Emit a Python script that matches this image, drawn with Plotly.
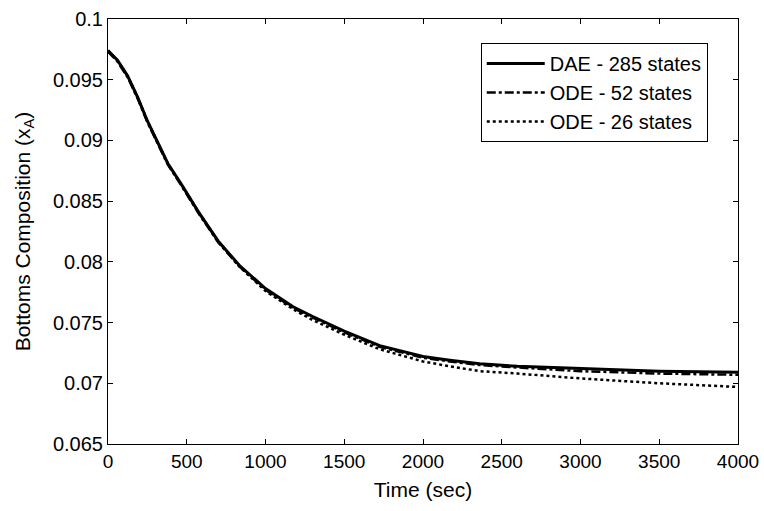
import plotly.graph_objects as go

# Time (sec)
t_dae = [0, 60, 125, 190, 250, 315, 380, 465, 575, 700, 835, 1000, 1175, 1300, 1500, 1725, 2000, 2170, 2360, 2600, 3000, 3500, 4000]
x_dae = [0.0974, 0.0966, 0.0953, 0.0935, 0.0916, 0.0899, 0.0881, 0.0864, 0.0841, 0.0817, 0.0797, 0.0778, 0.0763, 0.0755, 0.0743, 0.0731, 0.0722, 0.0719, 0.0716, 0.0714, 0.0712, 0.0710, 0.0709]

t_ode52 = [0, 60, 125, 190, 250, 315, 380, 465, 575, 700, 835, 1000, 1175, 1300, 1500, 1725, 2000, 2170, 2360, 2600, 3000, 3500, 4000]
x_ode52 = [0.0973, 0.0965, 0.0952, 0.0934, 0.0915, 0.0898, 0.0880, 0.0863, 0.0840, 0.0816, 0.0796, 0.0777, 0.0762, 0.0754, 0.0742, 0.0730, 0.0721, 0.0718, 0.0715, 0.0713, 0.0710, 0.0708, 0.0707]

t_ode26 = [0, 60, 125, 190, 250, 315, 380, 465, 575, 700, 835, 1000, 1175, 1300, 1500, 1725, 2000, 2170, 2360, 2600, 3000, 3500, 4000]
x_ode26 = [0.0974, 0.0966, 0.0953, 0.0935, 0.0916, 0.0899, 0.0881, 0.0864, 0.0841, 0.0817, 0.0796, 0.0776, 0.0761, 0.0752, 0.0740, 0.0728, 0.0718, 0.0714, 0.0710, 0.0708, 0.0704, 0.0700, 0.0697]

x_ticks = [0, 500, 1000, 1500, 2000, 2500, 3000, 3500, 4000]
y_ticks = [0.065, 0.07, 0.075, 0.08, 0.085, 0.09, 0.095, 0.1]
y_ticktext = ["0.065", "0.07", "0.075", "0.08", "0.085", "0.09", "0.095", "0.1"]

FONT = "Liberation Sans, Arial, sans-serif"

fig = go.Figure()
fig.add_trace(go.Scatter(x=t_dae, y=x_dae, mode="lines", name="DAE - 285 states",
                         legendgroup="a", line=dict(color="black", width=3, dash="solid")))
fig.add_trace(go.Scatter(x=t_ode52, y=x_ode52, mode="lines", name="ODE - 52 states",
                         legendgroup="b", line=dict(color="black", width=2.5, dash="dashdot")))
fig.add_trace(go.Scatter(x=t_ode26, y=x_ode26, mode="lines", name="ODE - 26 states",
                         legendgroup="c", line=dict(color="black", width=2.5, dash="dot")))

fig.update_layout(
    width=764, height=511,
    margin=dict(l=108, r=26, t=19, b=67),
    paper_bgcolor="white", plot_bgcolor="white",
    font=dict(family=FONT, size=20, color="black"),
    showlegend=True,
    legend=dict(x=0.952, y=0.9435, xanchor="right", yanchor="top",
                bgcolor="white", bordercolor="black", borderwidth=1,
                font=dict(family=FONT, size=20, color="black"),
                tracegroupgap=0, itemwidth=58),
)
fig.update_xaxes(
    range=[0, 4000], tickvals=x_ticks, ticktext=[str(v) for v in x_ticks],
    showgrid=False, zeroline=False, showline=True, linecolor="black", linewidth=1,
    mirror="ticks", ticks="inside", ticklen=5, tickcolor="black",
    tickfont=dict(family=FONT, size=19), automargin=False,
    title=dict(text="Time (sec)", font=dict(family=FONT, size=21), standoff=11),
)
fig.update_yaxes(
    range=[0.065, 0.1], tickvals=y_ticks, ticktext=y_ticktext,
    showgrid=False, zeroline=False, showline=True, linecolor="black", linewidth=1,
    mirror="ticks", ticks="inside", ticklen=5, tickcolor="black",
    tickfont=dict(family=FONT, size=20), automargin=False,
    title=dict(text="Bottoms Composition (x<sub>A</sub>)", font=dict(family=FONT, size=21), standoff=16),
)

fig.write_html("out.html", config={"displayModeBar": False},
               post_script="document.body.style.margin='0';document.body.style.overflow='hidden';")
